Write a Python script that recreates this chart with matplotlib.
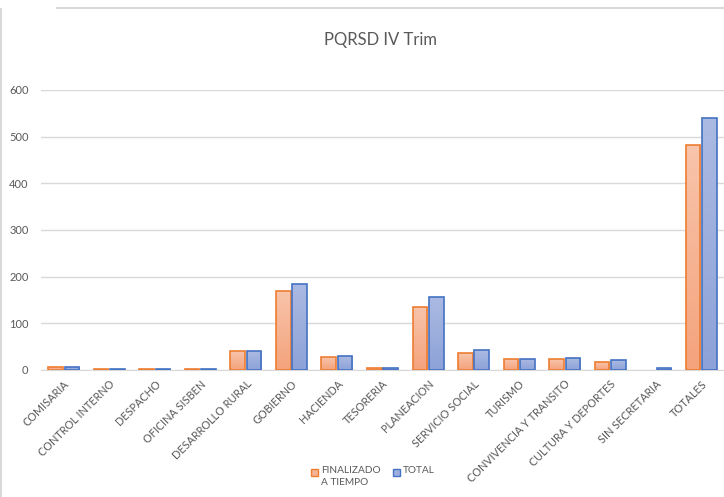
import numpy as np
import matplotlib.pyplot as plt
from matplotlib.lines import Line2D
from matplotlib.patches import Rectangle
from matplotlib.colors import LinearSegmentedColormap

categorias = ['COMISARIA', 'CONTROL INTERNO', 'DESPACHO', 'OFICINA SISBEN',
              'DESARROLLO RURAL', 'GOBIERNO', 'HACIENDA', 'TESORERIA',
              'PLANEACION', 'SERVICIO SOCIAL', 'TURISMO',
              'CONVIVENCIA Y TRANSITO', 'CULTURA Y DEPORTES',
              'SIN SECRETARIA', 'TOTALES']
finalizado = [7, 3, 3, 3, 40, 170, 27, 5, 134, 36, 23, 23, 17, 0, 482]
total = [7, 3, 3, 3, 40, 185, 29, 5, 156, 42, 23, 25, 21, 5, 539]
yticks = [0, 100, 200, 300, 400, 500, 600]

gris = '#595959'
plt.rcParams['font.family'] = ['Lato', 'DejaVu Sans']

fig = plt.figure(figsize=(7.24, 4.97), dpi=100)
ax = fig.add_axes([41 / 724, 1 - 370 / 497, 683 / 724, 280 / 497])

x = np.arange(len(categorias))
w = 0.32
cm_nar = LinearSegmentedColormap.from_list('nar', ['#F4A37C', '#F8C4AB'])
cm_azu = LinearSegmentedColormap.from_list('azu', ['#8DA2D8', '#ABBAE2'])
grad = np.linspace(0, 1, 100).reshape(-1, 1)

def barras(pos, vals, borde, cmap):
    bars = ax.bar(pos, vals, w, facecolor='none', edgecolor=borde,
                  linewidth=1.2, zorder=4)
    for b in bars:
        if b.get_height() <= 0:
            b.set_linewidth(0)
            continue
        im = ax.imshow(grad, cmap=cmap, origin='lower', aspect='auto',
                       extent=[b.get_x(), b.get_x() + b.get_width(),
                               0, b.get_height()], zorder=3)
        im.set_clip_path(b)
    return bars

barras(x - 0.18, finalizado, '#ED7D31', cm_nar)
barras(x + 0.18, total, '#4472C4', cm_azu)

ax.set_xlim(-0.5, len(categorias) - 0.5)
ax.set_ylim(0, 600)
ax.set_yticks(yticks)
ax.yaxis.grid(True, color='#D9D9D9', linewidth=1, zorder=0)
for s in ['top', 'right', 'left']:
    ax.spines[s].set_visible(False)
ax.spines['bottom'].set_color('#D9D9D9')
ax.tick_params(axis='both', length=0, colors=gris, labelsize=8)
ax.tick_params(axis='y', pad=9)
ax.tick_params(axis='x', pad=6)
ax.set_xticks(x)
ax.set_xticklabels(categorias, rotation=45, ha='right', rotation_mode='anchor',
                   fontsize=7.8)

fig.text(381 / 724, 1 - 40 / 497, 'PQRSD IV Trim', ha='center', va='center',
         fontsize=12, color=gris)

# leyenda
leyenda = [('FINALIZADO\nA TIEMPO', '#F6B394', '#ED7D31', 311),
           ('TOTAL', '#9DB0DE', '#4472C4', 393)]
for texto, fc, ec, px in leyenda:
    fig.add_artist(Rectangle((px / 724, 1 - 476 / 497), 7 / 724, 7 / 497,
                             facecolor=fc, edgecolor=ec, linewidth=1,
                             transform=fig.transFigure))
    fig.text((px + 10) / 724, 1 - 466 / 497, texto, ha='left', va='top',
             fontsize=7.3, color=gris, linespacing=1.45)

# borde del area del grafico
fig.add_artist(Line2D([0.002, 0.002], [0, 1 - 9 / 497], color='#D9D9D9',
                      linewidth=1.5, transform=fig.transFigure))
fig.add_artist(Line2D([57 / 724, 1], [1 - 8 / 497, 1 - 8 / 497],
                      color='#D9D9D9', linewidth=1.5, transform=fig.transFigure))

fig.savefig('out.png', dpi=100)
